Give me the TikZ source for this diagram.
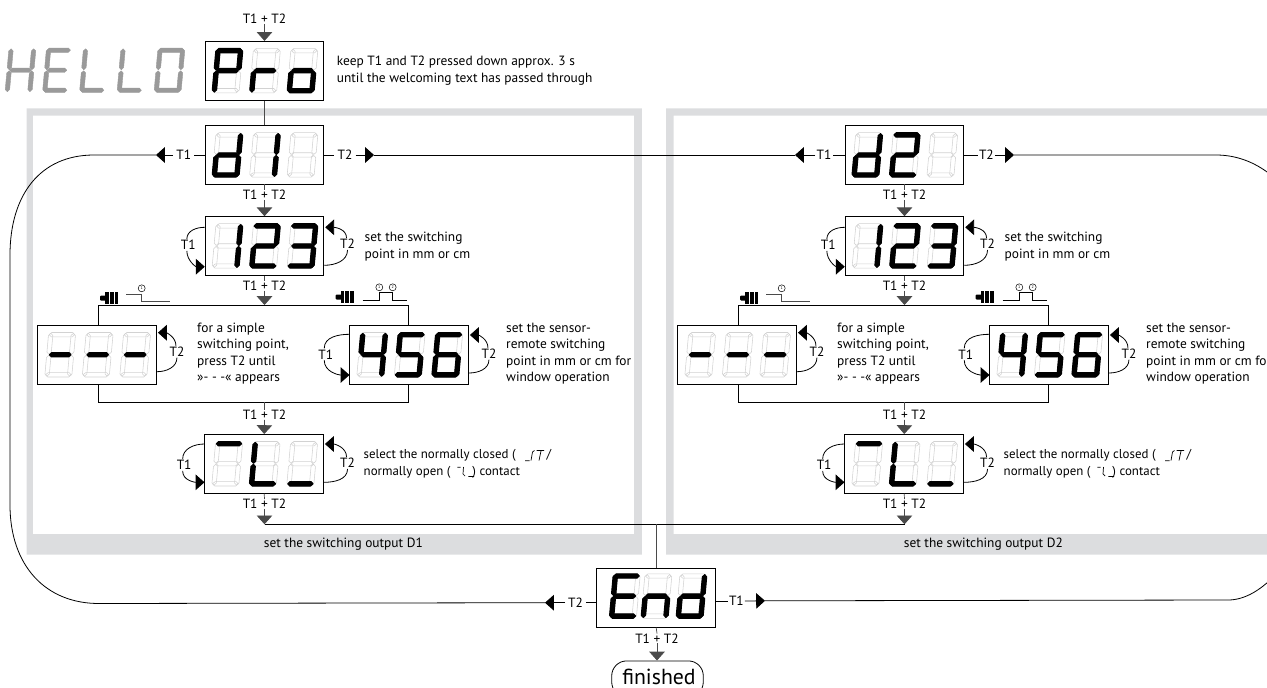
\documentclass[tikz,border=0pt]{standalone}
\usepackage{fontspec}
\setmainfont{PT Sans}
\usetikzlibrary{arrows.meta,calc}
\definecolor{framegray}{HTML}{DCDDDF}
\definecolor{ghostgray}{HTML}{D2D2D2}
\definecolor{hellogray}{HTML}{9A9A9A}
\definecolor{linegray}{HTML}{4A4A4A}
\newcommand\txtfont{\fontsize{13.4}{16.6}\selectfont}
\tikzset{
  lab/.style={inner sep=0pt,font=\txtfont},
  note/.style={inner sep=0pt,font=\txtfont,align=left,anchor=west},
  selnote/.style={inner sep=0pt,font=\fontsize{12.9}{16.6}\selectfont,anchor=west},
  dispbox/.style={draw=black,line width=0.9pt,fill=white,minimum width=118.6pt,minimum height=58.7pt,inner sep=0pt},
  conn/.style={draw=black,line width=0.8pt},
  graycon/.style={draw=linegray,line width=0.9pt},
  stub/.style={draw=linegray,line width=0.7pt},
  headtip/.style={-{Triangle[length=8.8pt,width=15.5pt]}},
  ghost/.style={draw=ghostgray,line width=0.55pt,line join=round},
  lit/.style={fill=black,draw=black,line width=1pt,line join=round},
  hello/.style={fill=hellogray,draw=hellogray,line width=0.4pt,line join=round},
}
% seven segment geometry
\newcommand\dgW{27}\newcommand\dgH{44.5}\newcommand\dgT{4.4}
\newcommand\hs[3]{({#1},{#3})--({#1+\dgT/2},{#3-\dgT/2})--({#2-\dgT/2},{#3-\dgT/2})--({#2},{#3})--({#2-\dgT/2},{#3+\dgT/2})--({#1+\dgT/2},{#3+\dgT/2})--cycle}
\newcommand\vs[3]{({#1},{#2})--({#1+\dgT/2},{#2+\dgT/2})--({#1+\dgT/2},{#3-\dgT/2})--({#1},{#3})--({#1-\dgT/2},{#3-\dgT/2})--({#1-\dgT/2},{#2+\dgT/2})--cycle}
\newcommand\sga{\hs{0.8}{\dgW-0.8}{\dgT/2}}
\newcommand\sgd{\hs{0.8}{\dgW-0.8}{\dgH-\dgT/2}}
\newcommand\sgg{\hs{\dgT/2+0.5}{\dgW-\dgT/2-0.5}{\dgH/2}}
\newcommand\sgb{\vs{\dgW-\dgT/2}{0.8}{\dgH/2-0.5}}
\newcommand\sgc{\vs{\dgW-\dgT/2}{\dgH/2+0.5}{\dgH-0.8}}
\newcommand\sge{\vs{\dgT/2}{\dgH/2+0.5}{\dgH-0.8}}
\newcommand\sgf{\vs{\dgT/2}{0.8}{\dgH/2-0.5}}
\newcommand\litbits[8]{%
  \ifnum#2=1 \path[#1] \sga;\fi
  \ifnum#3=1 \path[#1] \sgb;\fi
  \ifnum#4=1 \path[#1] \sgc;\fi
  \ifnum#5=1 \path[#1] \sgd;\fi
  \ifnum#6=1 \path[#1] \sge;\fi
  \ifnum#7=1 \path[#1] \sgf;\fi
  \ifnum#8=1 \path[#1] \sgg;\fi}
\newcommand\onedigit[3]{%
  \begin{scope}[shift={(#1,#2)},x={(1pt,0pt)},y={(-0.09pt,-1pt)}]
    \path[ghost] \sga; \path[ghost] \sgb; \path[ghost] \sgc; \path[ghost] \sgd;
    \path[ghost] \sge; \path[ghost] \sgf; \path[ghost] \sgg;
    \edef\bitcall{\noexpand\litbits{lit}#3}\bitcall
  \end{scope}}
\newcommand\hellodigit[3]{%
  \begin{scope}[shift={(#1,#2)},x={(1pt,0pt)},y={(-0.09pt,-1pt)}]
    \litbits{hello}#3
  \end{scope}}
\newcommand\threedigits[5]{%
  \onedigit{#1-48.5}{#2-22.3}{#3}\onedigit{#1-11}{#2-22.3}{#4}\onedigit{#1+26.5}{#2-22.3}{#5}}
% patterns abcdefg
\newcommand\pP{1100111}\newcommand\pr{0000101}\newcommand\po{0011101}
\newcommand\pd{0111101}\newcommand\pone{0110000}\newcommand\pblank{0000000}
\newcommand\ptwo{1101101}\newcommand\pthree{1111001}\newcommand\pdash{0000001}
\newcommand\pfour{0110011}\newcommand\pfive{1011011}\newcommand\psix{1011111}
\newcommand\ptop{1000000}\newcommand\pL{0001110}\newcommand\pbot{0001000}
\newcommand\pE{1001111}\newcommand\pn{0010101}
% loops
\newcommand\LLoop[5]{% box, dx, ytop, ylab, ytip
  \node[lab] (#1-tl) at ($(#1.west |- 0,#4)+(-#2,0)$) {T1};
  \coordinate (#1-la) at (#1.west |- 0,#3);
  \coordinate (#1-lb) at (#1.west |- 0,#5);
  \draw[conn] (#1-la) to[out=180,in=90] ($(#1-tl.north)+(-1.5,-1)$);
  \draw[conn,headtip] ($(#1-tl.south)+(-1.5,1)$) to[out=-90,in=180] (#1-lb);}
\newcommand\RLoop[5]{% box, dx, ytip, ylab, ybot
  \node[lab] (#1-tr) at ($(#1.east |- 0,#4)+(#2,0)$) {T2};
  \coordinate (#1-ra) at (#1.east |- 0,#3);
  \coordinate (#1-rb) at (#1.east |- 0,#5);
  \draw[conn,headtip] ($(#1-tr.north)+(-1,-1)$) to[out=90,in=0] ($(#1-ra)+(1,0)$);
  \draw[conn] (#1-rb) to[out=0,in=-90] ($(#1-tr.south)+(0,1)$);}
\newcommand\sensoricon[2]{%
  \fill[black,rounded corners=1pt] (#1,#2-2.5) rectangle (#1+7,#2+2.5);
  \fill[black] (#1+5,#2-6) rectangle (#1+18,#2+6);
  \draw[white,line width=0.8pt] (#1+9,#2-6) -- (#1+9,#2+6) (#1+14,#2-6) -- (#1+14,#2+6);
}
% one column of the menu
\newcommand\menucolumn{%
  \node[dispbox] (num) at (264.5,246) {};
  \threedigits{264.5}{246}{\pone}{\ptwo}{\pthree}
  \node[lab] (lblA) at (264.5,195) {T1 + T2};
  \draw[stub] (upper.south) -- (lblA.north);
  \draw[stub,headtip] (lblA.south) -- (num.north);
  \LLoop{num}{16.4}{227.3}{245}{266.7}
  \RLoop{num}{23.3}{227.3}{244}{265.3}
  \node[note] at (364.5,246.5) {set the switching\\point in mm or cm};
  % branch
  \coordinate (brTL) at (98,305);
  \coordinate (brTR) at (408,305);
  \coordinate (brBL) at (98,402.3);
  \coordinate (brBR) at (408,402.3);
  \coordinate (tipB) at (264.5,305);
  \node[lab] (lblB) at (264.5,285.7) {T1 + T2};
  \draw[stub] (num.south) -- (lblB.north);
  \draw[stub,headtip] (lblB.south) -- (tipB);
  \draw[conn] (brBL) -- (brTL) -- (brTR) -- (brBR) -- cycle;
  \node[dispbox] (simple) at (97.2,354.8) {};
  \threedigits{97.2}{354.8}{\pdash}{\pdash}{\pdash}
  \node[dispbox] (wind) at (409.2,354.8) {};
  \threedigits{409.2}{354.8}{\pfour}{\pfive}{\psix}
  \RLoop{simple}{20}{332.7}{351.7}{371.7}
  \LLoop{wind}{23.7}{334.3}{354.3}{375}
  \RLoop{wind}{20}{335}{353.7}{373}
  \node[note] at (197,353.6) {for a simple\\switching point,\\press T2 until\\»- - -« appears};
  \node[note] at (506,353.6) {set the sensor-\\remote switching\\point in mm or cm for\\window operation};
  % sensor icons and switching curves
  \sensoricon{100}{298}
  \draw[graycon,line width=0.7pt] (126,294) -- (141.7,294) -- (141.7,301.7) -- (170,301.7);
  \node[draw=black,line width=0.5pt,circle,minimum size=7pt,inner sep=0pt,font=\fontsize{4}{4}\selectfont,fill=white] (cOne) at (141.7,288.3) {1};
  \sensoricon{335.7}{297}
  \draw[conn,line width=0.7pt] (362.7,300) -- (379.3,300) -- (379.3,292.7) -- (392.7,292.7) -- (392.7,300) -- (406.7,300);
  \node[draw=black,line width=0.5pt,circle,minimum size=7pt,inner sep=0pt,font=\fontsize{4}{4}\selectfont,fill=white] (cTwoA) at (379.3,287.3) {1};
  \node[draw=black,line width=0.5pt,circle,minimum size=7pt,inner sep=0pt,font=\fontsize{4}{4}\selectfont,fill=white] (cTwoB) at (392.7,287.3) {2};
  % contact box
  \node[dispbox] (cont) at (264.2,463.8) {};
  \threedigits{264.2}{463.8}{\ptop}{\pL}{\pbot}
  \node[lab] (lblC) at (264.5,415) {T1 + T2};
  \coordinate (brMid) at (264.5,402.3);
  \draw[stub] (brMid) -- (lblC.north);
  \draw[stub,headtip] (lblC.south) -- (cont.north);
  \LLoop{cont}{20.3}{444}{465}{482.3}
  \RLoop{cont}{23.6}{444}{463}{482.3}
  \node[selnote] (selA) at (363.5,455.7) {select the normally closed (\hspace{31pt}/};
  \node[selnote] (selB) at (363.5,472.7) {normally open (\hspace{22pt}) contact};
  \draw[black,line width=0.7pt] (525,460.7) -- (529.5,460.7)
     (531,460.5) -- (532.5,452) -- (534.5,450.5)
     (536.7,450.5) -- (544,450.5) (541,451) -- (539,460.5);
  \draw[black,line width=0.7pt] (457.3,467.3) -- (460.7,467.3)
     (463.5,467) -- (463,474) -- (465,476)
     (468.3,476.5) -- (474,476.5);
  \node[lab] (lblD) at (264.5,504) {T1 + T2};
  \coordinate (busend) at (264.5,524.3);
  \draw[stub] (cont.south) -- (lblD.north);
  \draw[stub,headtip] (lblD.south) -- (busend);
}
\begin{document}
\begin{tikzpicture}[x=1pt,y=-1pt]
\useasboundingbox (0,0) rectangle (1267,688);
\clip (0,0) rectangle (1267,688);
% grey frames
\fill[framegray,even odd rule] (26.5,108.3) rectangle (641.8,554.7) (32.8,115.7) rectangle (634,534);
\fill[framegray,even odd rule] (666,108.3) rectangle (1290,554.7) (673.6,115.7) rectangle (1290,534);
\node[lab] at (343.4,544.5) {set the switching output D1};
\node[lab] at (983.4,544.5) {set the switching output D2};
% HELLO
\hellodigit{9}{48}{0110111}%
\renewcommand\dgW{25}%
\hellodigit{46.5}{48}{1001111}%
\hellodigit{83.5}{48}{0001110}%
\hellodigit{121}{48}{0001110}%
\renewcommand\dgW{27}%
\hellodigit{158}{48}{1111110}%
% Pro
\node[lab] (lblTop) at (264.5,19) {T1 + T2};
\node[dispbox] (pro) at (264.5,70.7) {};
\threedigits{264.5}{70.7}{\pP}{\pr}{\po}
\draw[stub,headtip] (lblTop.south) -- (pro.north);
\node[note] at (336.7,70.5) {keep T1 and T2 pressed down approx. 3 s\\until the welcoming text has passed through};
% long curved return lines first
\coordinate (tipDoneL) at (156,155);
\coordinate (tipEndL) at (545,602.7);
\draw[conn] (tipDoneL) -- (94,155) .. controls (40,155) and (10,195) .. (10,255) -- (10,505)
   .. controls (10,565) and (45,604) .. (100,603.5) -- (tipEndL);
\coordinate (tipDtwoR) at (1014,155);
\coordinate (tipEndR) at (765,600.8);
\draw[conn] (tipDtwoR) -- (1216,155) .. controls (1250,155) and (1280,175) .. (1300,210);
\draw[conn] (tipEndR) -- (1228,600) .. controls (1245,600) and (1262,590) .. (1280,570);
% D1 selector
\node[dispbox] (dOne) at (264.5,155) {};
\threedigits{264.5}{155}{\pd}{\pone}{\pblank}
\draw[graycon] (pro.south) -- (dOne.north);
\node[lab] (dOneL) at (183.7,155) {T1};
\node[lab] (dOneR) at (345,155) {T2};
\draw[conn] (dOne.west) -- ($(dOneL.east)+(3,0)$);
\draw[conn,headtip] ($(dOneL.west)+(-3,0)$) -- (tipDoneL);
\draw[conn] (dOne.east) -- ($(dOneR.west)+(-3,0)$);
\coordinate (tipDoneR) at (374,155);
\draw[conn,headtip] ($(dOneR.east)+(3,0)$) -- (tipDoneR);
% D2 selector
\node[dispbox] (dTwo) at (904.3,155) {};
\threedigits{904.3}{155}{\pd}{\ptwo}{\pblank}
\node[lab] (dTwoL) at (824,155) {T1};
\node[lab] (dTwoR) at (986.4,155) {T2};
\coordinate (tipDtwoL) at (795,155);
\draw[conn] (tipDoneR) -- (tipDtwoL);
\draw[conn] (dTwo.west) -- ($(dTwoL.east)+(1,0)$);
\draw[conn,headtip] ($(dTwoL.west)+(-1,0)$) -- (tipDtwoL);
\draw[conn] (dTwo.east) -- ($(dTwoR.west)+(-1,0)$);
\draw[conn,headtip] ($(dTwoR.east)+(1,0)$) -- (tipDtwoR);
% the two columns
\begin{scope}[name prefix=L-]
  \coordinate (upper) at (264.5,184.3);
  \menucolumn
\end{scope}
\begin{scope}[shift={(640,0)},name prefix=R-]
  \coordinate (upper) at (264.5,184.3);
  \menucolumn
\end{scope}
\draw[conn] (L-busend) -- (R-busend);
% End
\node[dispbox] (endbox) at (656.2,597.8) {};
\coordinate (busjoin) at (L-busend -| endbox.north);
\draw[graycon] (busjoin) -- (endbox.north);
\onedigit{613.3}{573.8}{\pE}\onedigit{645}{573.8}{\pn}\onedigit{680}{573.8}{\pd}%
\node[lab] (endL) at (575.6,602.7) {T2};
\node[lab] (endR) at (736.4,601) {T1};
\draw[conn] (endbox.west |- endL) -- ($(endL.east)+(3,0)$);
\draw[conn,headtip] ($(endL.west)+(-3,0)$) -- (tipEndL);
\draw[conn] (endbox.east |- endR) -- ($(endR.west)+(-1,0)$);
\draw[conn,headtip] ($(endR.east)+(1,0)$) -- (tipEndR);
% finished
\node[lab] (lblEnd) at (657,638.5) {T1 + T2};
\node[draw=black,line width=0.8pt,rounded corners=15pt,minimum width=91.6pt,minimum height=36pt,inner sep=0pt,anchor=north] (fin) at (657.5,660.5) {};
\node[inner sep=0pt,font=\fontsize{21.8}{24}\selectfont] (finT) at (659,677) {finished};
\draw[stub] (endbox.south) -- (lblEnd.north);
\draw[stub,headtip] (lblEnd.south) -- (fin.north -| lblEnd.south);
\end{tikzpicture}
\end{document}
